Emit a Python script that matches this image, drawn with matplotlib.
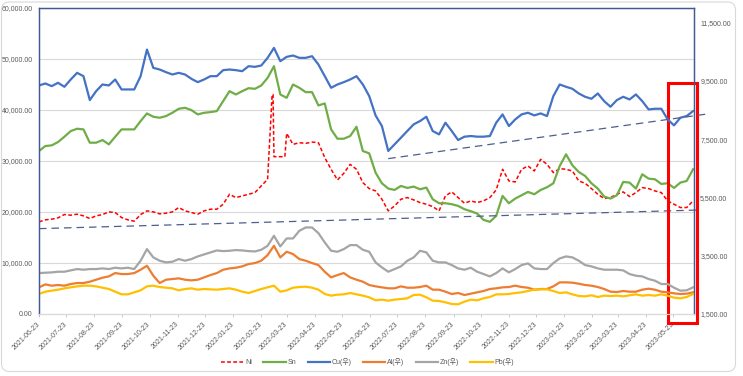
import numpy as np
import pandas as pd
import matplotlib
matplotlib.use("Agg")
import matplotlib.pyplot as plt
from matplotlib.patches import Rectangle, FancyBboxPatch
from matplotlib.ticker import FuncFormatter, FixedLocator
import matplotlib.dates as mdates

plt.rcParams['font.family'] = ['Liberation Sans', 'Noto Sans CJK KR', 'DejaVu Sans']

# weekly samples, 2021-06-23 .. 2023-06-14
dates = pd.date_range('2021-06-23', periods=104, freq='7D')

# left axis
ni = [18058, 18449, 18579, 18840, 19492, 19361, 19557, 19231, 18710, 19231,
      19492, 20013, 19883, 18905, 18449, 18188, 19492, 20209, 20013, 19622,
      19753, 20013, 20861, 20209, 19883, 19557, 20209, 20535, 20535, 21513,
      23468, 22817, 23142, 23468, 23794, 25098, 26402, 30835, 30835, 35398,
      33247, 33573, 33442, 33703, 33573, 30639, 28358, 26272, 27575, 29336,
      28358, 25750, 24577, 24120, 22491, 20209, 21187, 22491, 22817, 22360,
      21839, 21513, 21056, 20209, 23142, 23925, 22817, 21708, 22165, 21839,
      22165, 22817, 24316, 28358, 26076, 25880, 28358, 29010, 28032, 30313,
      29336, 27706, 28488, 28358, 28032, 26076, 25620, 24577, 23468, 22621,
      22817, 23468, 23925, 23012, 23794, 24772, 24577, 24120, 23794, 22165,
      21513, 20861, 20861, 22165]
# nickel squeeze days (between weekly samples)
ni_extra_dates = ['2022-03-07', '2022-03-08', '2022-03-21']
ni_extra = [43025, 43025, 30835]

sn = [31943, 32921, 33051, 33703, 34746, 35855, 36311, 36180, 33573, 33573,
      34094, 33247, 34746, 36180, 36180, 36180, 37810, 39310, 38658, 38462,
      38788, 39440, 40222, 40418, 39961, 39114, 39440, 39570, 39766, 41722,
      43677, 43025, 43677, 44264, 44134, 44786, 46285, 48567, 43025, 42374,
      44981, 44329, 43482, 43482, 40874, 41265, 36180, 34355, 34355, 34877,
      36702, 31943, 31487, 27706, 25620, 24577, 24316, 25098, 24707, 24968,
      24446, 24772, 22491, 21708, 21708, 21513, 21187, 20535, 20144, 19687,
      18449, 18058, 19231, 23142, 21708, 22621, 23273, 23925, 23468, 24316,
      24837, 25620, 29010, 31291, 29140, 27836, 27054, 25620, 24577, 23012,
      22621, 23273, 25880, 25750, 24577, 27380, 26532, 26402, 25489, 25620,
      24707, 25750, 26076, 28358]

# right axis
cu = [9339, 9407, 9316, 9430, 9293, 9544, 9772, 9658, 8837, 9145,
      9373, 9339, 9544, 9202, 9202, 9202, 9658, 10571, 9943, 9886,
      9795, 9715, 9772, 9715, 9567, 9453, 9544, 9658, 9658, 9864,
      9886, 9864, 9829, 10000, 9978, 10023, 10286, 10628, 10172, 10320,
      10366, 10286, 10286, 10343, 10058, 9658, 9259, 9373, 9453, 9544,
      9658, 9373, 8974, 8312, 7947, 7091, 7319, 7547, 7776, 8004,
      8118, 8266, 7776, 7661, 8061, 7776, 7467, 7582, 7604, 7582,
      7582, 7604, 8061, 8346, 7947, 8175, 8346, 8403, 8312, 8380,
      8289, 8974, 9373, 9293, 9225, 9065, 8951, 8882, 9065, 8802,
      8608, 8837, 8951, 8859, 9031, 8802, 8517, 8540, 8540, 8175,
      7969, 8232, 8289, 8460]

al = [2413, 2515, 2470, 2493, 2470, 2527, 2561, 2561, 2607, 2675,
      2744, 2789, 2903, 2869, 2869, 2903, 3018, 3154, 2812, 2561,
      2675, 2698, 2721, 2675, 2652, 2675, 2755, 2835, 2903, 3018,
      3063, 3086, 3132, 3212, 3246, 3326, 3520, 3839, 3440, 3634,
      3554, 3383, 3326, 3246, 3177, 2949, 2755, 2835, 2903, 2755,
      2675, 2607, 2493, 2447, 2413, 2379, 2379, 2447, 2401, 2401,
      2424, 2470, 2333, 2333, 2264, 2185, 2219, 2150, 2196, 2242,
      2287, 2356, 2379, 2413, 2424, 2470, 2424, 2401, 2333, 2356,
      2356, 2447, 2584, 2584, 2573, 2538, 2493, 2470, 2424, 2356,
      2264, 2253, 2287, 2264, 2264, 2333, 2367, 2333, 2264, 2242,
      2207, 2185, 2196, 2242]

zn = [2903, 2915, 2926, 2949, 2949, 2995, 3040, 3018, 3040, 3040,
      3063, 3040, 3086, 3063, 3086, 3040, 3326, 3725, 3440, 3326,
      3269, 3291, 3383, 3326, 3383, 3474, 3542, 3611, 3679, 3656,
      3668, 3691, 3679, 3656, 3645, 3702, 3839, 4181, 3816, 4090,
      4090, 4353, 4467, 4467, 4273, 3953, 3668, 3634, 3725, 3862,
      3862, 3702, 3634, 3269, 3097, 2949, 3040, 3132, 3326, 3440,
      3668, 3611, 3326, 3269, 3269, 3177, 3063, 3018, 3086, 2949,
      2869, 2789, 2903, 3063, 2926, 3040, 3177, 3234, 3063, 3040,
      3040, 3246, 3405, 3474, 3440, 3326, 3177, 3132, 3063, 3018,
      3018, 3018, 2995, 2869, 2812, 2789, 2698, 2641, 2527, 2527,
      2401, 2299, 2310, 2413]

pb = [2185, 2264, 2299, 2333, 2379, 2413, 2447, 2470, 2470, 2447,
      2401, 2356, 2264, 2173, 2173, 2242, 2310, 2447, 2470, 2424,
      2401, 2379, 2310, 2356, 2379, 2333, 2356, 2344, 2333, 2356,
      2379, 2333, 2264, 2219, 2287, 2356, 2413, 2470, 2264, 2310,
      2401, 2424, 2436, 2401, 2333, 2185, 2128, 2162, 2173, 2219,
      2173, 2128, 2071, 1968, 1991, 1956, 1991, 2013, 2036, 2150,
      2162, 2071, 1956, 1945, 1899, 1842, 1831, 1922, 1991, 1968,
      2036, 2082, 2173, 2173, 2185, 2219, 2242, 2287, 2333, 2344,
      2344, 2287, 2219, 2242, 2173, 2116, 2105, 2139, 2082, 2128,
      2116, 2128, 2105, 2139, 2173, 2128, 2150, 2128, 2173, 2128,
      2059, 2036, 2082, 2185]

# dashed trend lines (start / end)
cu_trend_dates = ['2022-07-13', '2023-06-30']
cu_trend = [6829, 8363]
ni_trend_dates = ['2021-06-23', '2023-06-23']
ni_trend = [16726, 20392]

tick_dates = pd.date_range('2021-06-23', periods=24, freq=pd.DateOffset(months=1))

ni_s = pd.concat([pd.Series(ni, index=dates),
                  pd.Series(ni_extra, index=pd.to_datetime(ni_extra_dates))]).sort_index()

fig = plt.figure(figsize=(7.43, 3.76), dpi=100)
ax = fig.add_axes([0.0525, 0.165, 0.8815, 0.814])
ax2 = ax.twinx()

navy = '#3F5A95'
lab = '#595959'

ax.plot(ni_s.index, ni_s.values, color='#FF0000', lw=1.1, ls=(0, (2.5, 1.5)), label='Ni')
ax.plot(dates, sn, color='#70AD47', lw=1.6, label='Sn')
ax.plot(pd.to_datetime(ni_trend_dates), ni_trend, color='#4D5E8F', lw=0.9,
        ls=(0, (6, 4)), clip_on=False, zorder=5)

ax2.plot(dates, cu, color='#4472C4', lw=1.6, label='Cu(우)')
ax2.plot(dates, al, color='#ED7D31', lw=1.6, label='Al(우)')
ax2.plot(dates, zn, color='#A5A5A5', lw=1.6, label='Zn(우)')
ax2.plot(dates, pb, color='#FFC000', lw=1.6, label='Pb(우)')
ax2.plot(pd.to_datetime(cu_trend_dates), cu_trend, color='#4D5E8F', lw=0.9,
         ls=(0, (6, 4)), clip_on=False)

ax.set_xlim(pd.Timestamp('2021-06-23'), pd.Timestamp('2023-06-15'))
ax.set_ylim(0, 60000)
ax2.set_ylim(1500, 12000)
ax.set_yticks(np.arange(0, 60001, 10000))
ax2.set_yticks(np.arange(1500, 11501, 2000))
fmt = FuncFormatter(lambda v, p: f'{v:,.2f}')
ax.yaxis.set_major_formatter(fmt)
ax2.yaxis.set_major_formatter(fmt)

ax.xaxis.set_major_locator(FixedLocator(mdates.date2num(tick_dates)))
ax.xaxis.set_major_formatter(mdates.DateFormatter('%Y-%m-%d'))
for t in ax.get_xticklabels():
    t.set_rotation(45)
    t.set_ha('right')
    t.set_va('center')
    t.set_rotation_mode('anchor')

ax.grid(axis='y', color='#D9D9D9', lw=0.8)
ax.set_axisbelow(True)
ax.tick_params(axis='x', length=2.5, width=0.6, color='#BFBFBF', labelsize=5,
               labelcolor=lab, pad=4)
ax.tick_params(axis='y', length=0, labelsize=5, labelcolor=lab, pad=4.5)
ax2.tick_params(axis='y', length=0, labelsize=5, labelcolor=lab, pad=4.5)

for a in (ax, ax2):
    for s in ('top', 'left', 'right'):
        a.spines[s].set_color(navy)
        a.spines[s].set_linewidth(0.9)
    a.spines['bottom'].set_color('#D9D9D9')
    a.spines['bottom'].set_linewidth(0.8)

# highlight box on the latest weeks
ax.add_patch(Rectangle((0.96, -0.028), 0.045, 0.783, transform=ax.transAxes,
                       fill=False, ec='#FF0000', lw=2.2, clip_on=False, zorder=10))

h1, l1 = ax.get_legend_handles_labels()
h2, l2 = ax2.get_legend_handles_labels()
fig.legend(h1 + h2, l1 + l2, loc='center', bbox_to_anchor=(0.495, 0.037), ncol=6,
           frameon=False, fontsize=5, handlelength=3.2, columnspacing=1.6,
           handletextpad=0.3, labelcolor=lab)

fig.patches.append(FancyBboxPatch((1.5, 4.5), 734, 369.5, boxstyle='round,pad=0,rounding_size=8',
                                  transform=None, fill=False, ec='#D9D9D9', lw=0.8))

fig.savefig('out.png', dpi=100)
